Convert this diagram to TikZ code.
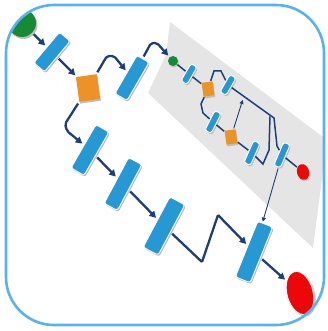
\documentclass[tikz,border=0pt]{standalone}
\usetikzlibrary{arrows.meta,calc,shapes.geometric}
\definecolor{boxblue}{RGB}{38,152,212}
\definecolor{steporange}{RGB}{236,146,38}
\definecolor{linknavy}{RGB}{30,62,122}
\definecolor{framblue}{RGB}{88,178,242}
\definecolor{lanegray}{RGB}{229,229,229}
\definecolor{startgreen}{RGB}{22,138,52}
\definecolor{endred}{RGB}{236,8,8}

% rotated task box with its shadow: name, centre, length, width, angle
\newcommand\putbox[5]{%
  \node[boxshade, minimum width=#3, minimum height=#4, rotate=#5] at ($#2+(1.1,1.5)$) {};
  \node[flowbox, minimum width=#3, minimum height=#4, rotate=#5] (#1) at #2 {};}
% decision square with its shadow: name, centre, width, height, angle
\newcommand\putdecision[5]{%
  \node[decshade, minimum width=#3, minimum height=#4, rotate=#5] at ($#2+(0.8,1.8)$) {};
  \node[decision, minimum width=#3, minimum height=#4, rotate=#5] (#1) at #2 {};}

\begin{document}
\begin{tikzpicture}[x=1pt,y=-1pt,
  flowbox/.style={rectangle, rounded corners=2.5pt, fill=boxblue, draw=white, line width=0.9pt, inner sep=0pt},
  boxshade/.style={rectangle, rounded corners=2.5pt, fill=black!28, inner sep=0pt},
  decision/.style={rectangle, fill=steporange, inner sep=0pt},
  decshade/.style={rectangle, fill=black!25, inner sep=0pt},
  link/.style={draw=linknavy, line width=2.3pt, rounded corners=2pt, -{Triangle[length=6.5pt,width=7pt]}, shorten <=2pt, shorten >=2pt},
  inlink/.style={draw=linknavy, line width=1.5pt, shorten <=0.5pt, shorten >=0.5pt},
  thinlink/.style={draw=linknavy, line width=0.9pt, -{Triangle[length=4pt,width=4pt]}, shorten <=1pt, shorten >=1pt},
  frame/.style={draw=framblue, line width=2.6pt, rounded corners=48pt}]

\useasboundingbox (0,0) rectangle (328,331);

% sub-process lane and start event, kept inside the frame
\begin{scope}
  \clip[rounded corners=48pt] (6,5) rectangle (324,325);
  \fill[lanegray] (170,22) -- (327,140) -- (313,248) -- (148,93) -- (166,55) -- cycle;
  \fill[black!25] (23.5,25) circle (14);
  \node[circle, fill=startgreen, minimum size=28pt, inner sep=0pt] (G1) at (22,23) {};
\end{scope}

% main flow
\putbox{B1}{(52,52)}{40pt}{14pt}{50}
\putdecision{D1}{(88,88)}{21pt}{25pt}{8}
\putbox{B2}{(132,78)}{44pt}{14pt}{60}
\putbox{B3}{(90,150)}{50pt}{15pt}{60}
\putbox{B4}{(123,184)}{52pt}{15pt}{62}
\putbox{B5}{(164,226)}{57pt}{17pt}{62}
\putbox{B6}{(254,252)}{60pt}{16pt}{68}
\node[ellipse, fill=black!22, minimum width=27pt, minimum height=45pt, rotate=15] at (301.5,294.5) {};
\node[ellipse, fill=endred, draw=white, line width=0.8pt, minimum width=26pt, minimum height=44pt, rotate=15] (R1) at (300,293) {};

% sub-process contents
\node[circle, fill=black!25, minimum size=10pt, inner sep=0pt] at (174,62.5) {};
\node[circle, fill=startgreen, minimum size=10pt, inner sep=0pt] (G2) at (173,61) {};
\putbox{s1}{(189,74)}{20pt}{7pt}{60}
\putdecision{o1}{(208,89)}{11pt}{14pt}{8}
\putbox{s2}{(228,85)}{20pt}{7pt}{60}
\putbox{s3}{(213,122)}{22pt}{7pt}{63}
\putdecision{o2}{(231,137)}{11pt}{14pt}{8}
\putbox{s4}{(252,153)}{24pt}{7pt}{66}
\putbox{s5}{(282,155)}{25pt}{7pt}{67}
\node[ellipse, fill=black!22, minimum width=12pt, minimum height=16pt, rotate=15] at (304,173.5) {};
\node[ellipse, fill=endred, minimum width=12pt, minimum height=16pt, rotate=15] (R2) at (303,172) {};

% bend points
\coordinate (k1) at (107,56);
\coordinate (k2) at (114,56);
\coordinate (k3) at (151,43);
\coordinate (k4) at (157,43);
\coordinate (k5) at (65,124);
\coordinate (k6) at (67,131);
\coordinate (z1) at (202,262);
\coordinate (z2) at (218,215);
\coordinate (c3) at (214,71);
\coordinate (c4) at (221,71);
\coordinate (c5) at (201,104);
\coordinate (c6) at (203,113);
\coordinate (c7) at (274,118);
\coordinate (c8) at (277,146);
\coordinate (c9) at (263,164);
\coordinate (c10) at (269,150);
\coordinate (c11) at (270,116);
\coordinate (c12) at (243,99);

% main connectors
\draw[link] (G1) -- (B1);
\draw[link] (B1) -- (D1);
\draw[link] (D1) -- (k1) -- (k2) -- (B2);
\draw[link] (B2) -- (k3) -- (k4) -- (G2);
\draw[link] (D1) -- (k5) -- (k6) -- (B3);
\draw[link] (B3) -- (B4);
\draw[link] (B4) -- (B5);
\draw[link, rounded corners=1pt] (B5) -- (z1) -- (z2) -- (B6);
\draw[link] (B6) -- (R1);

% sub-process connectors
\draw[inlink] (G2) -- (s1);
\draw[inlink] (s1) -- (o1);
\draw[inlink] (o1) -- (c3) -- (c4) -- (s2);
\draw[inlink] (o1) -- (c5) -- (c6) -- (s3);
\draw[inlink] (s3) -- (o2);
\draw[inlink] (o2) -- (s4);
\draw[inlink] (s2) -- (c7) -- (c8) -- (s5);
\draw[inlink] (s4) -- (c9) -- (c10) -- (c11);
\draw[inlink] (s5) -- (R2);
\draw[thinlink] (o2) -- (c12);
\draw[thinlink] (s5) -- (B6);

% outer frame
\draw[frame] (6,5) rectangle (324,325);
\end{tikzpicture}
\end{document}
